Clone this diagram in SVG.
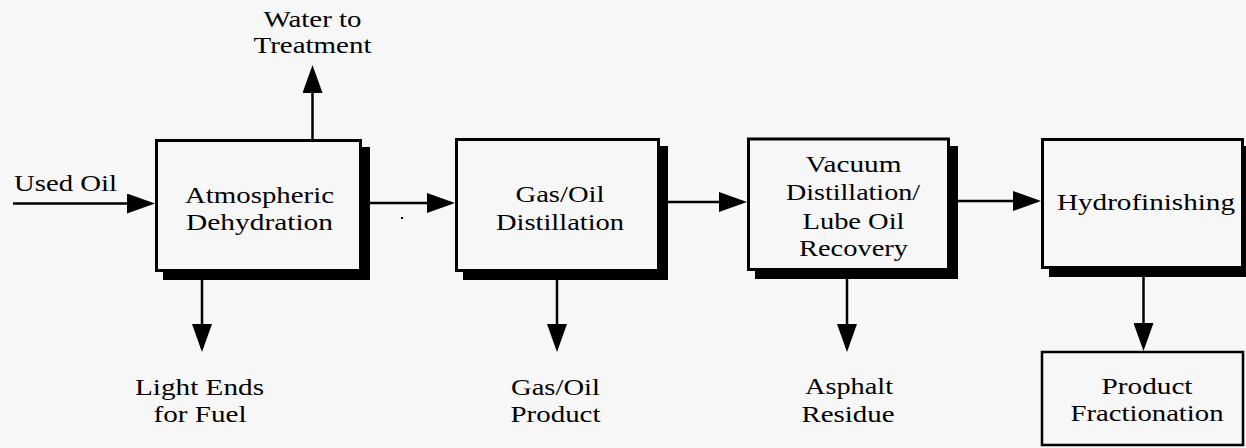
<svg xmlns="http://www.w3.org/2000/svg" width="1246" height="448" viewBox="0 0 1246 448">
  <defs>
    <!-- solid triangular arrowhead; lines stop 4px short of the tip -->
    <marker id="head" markerUnits="userSpaceOnUse" markerWidth="28" markerHeight="20" refX="24" refY="10" orient="auto">
      <path d="M0,0 L28,10 L0,20 Z" fill="#000"/>
    </marker>
  </defs>

  <rect width="1246" height="448" fill="#f7f7f7"/>
  <rect x="401" y="217" width="2" height="2" fill="#000"/>

  <!-- flow lines -->
  <g id="connectors" stroke="#000" stroke-width="2.5" fill="none">
    <line marker-end="url(#head)" x1="13" y1="203.5" x2="151" y2="203.5"/>
    <line marker-end="url(#head)" x1="370" y1="203" x2="451" y2="203"/>
    <line marker-end="url(#head)" x1="668" y1="202" x2="743" y2="202"/>
    <line marker-end="url(#head)" x1="958" y1="201" x2="1037" y2="201"/>
    <line marker-end="url(#head)" x1="312.5" y1="139" x2="312.5" y2="69"/>
    <line marker-end="url(#head)" x1="202" y1="280" x2="202" y2="348"/>
    <line marker-end="url(#head)" x1="557" y1="280" x2="557" y2="348"/>
    <line marker-end="url(#head)" x1="847" y1="279" x2="847" y2="348"/>
    <line marker-end="url(#head)" x1="1143.5" y1="277" x2="1143.5" y2="347"/>
  </g>

  <!-- process units: an offset black block behind each box gives the drop shadow -->
  <g id="box-shapes" stroke="#000" stroke-width="3" fill="#f7f7f7">
    <rect id="atmospheric-dehydration-shadow" x="163" y="147" width="207" height="133" fill="#000" stroke="none"/>
    <rect id="atmospheric-dehydration-box" x="156.5" y="140.5" width="204" height="130"/>
    <rect id="gas-oil-distillation-shadow" x="463" y="146" width="205" height="134" fill="#000" stroke="none"/>
    <rect id="gas-oil-distillation-box" x="456.5" y="139.5" width="202" height="131"/>
    <rect id="vacuum-distillation-shadow" x="755" y="146" width="203" height="133" fill="#000" stroke="none"/>
    <rect id="vacuum-distillation-box" x="748.5" y="139" width="200" height="130.5"/>
    <rect id="hydrofinishing-shadow" x="1049" y="146" width="203" height="131" fill="#000" stroke="none"/>
    <rect id="hydrofinishing-box" x="1042.5" y="139.5" width="200" height="128"/>
    <rect id="product-fractionation-box" x="1042" y="352" width="201" height="93" stroke-width="2.5"/>
  </g>

  <!-- all labels -->
  <g id="labels" font-family="Liberation Serif" font-size="24" text-anchor="middle" fill="#000">
    <g id="atmospheric-dehydration">
      <text x="259.5" y="202.5" textLength="149" lengthAdjust="spacingAndGlyphs">Atmospheric</text>
      <text x="259.5" y="230" textLength="147" lengthAdjust="spacingAndGlyphs">Dehydration</text>
    </g>
    <g id="gas-oil-distillation">
      <text x="560" y="201.5" textLength="89" lengthAdjust="spacingAndGlyphs">Gas/Oil</text>
      <text x="560" y="230" textLength="128" lengthAdjust="spacingAndGlyphs">Distillation</text>
    </g>
    <g id="vacuum-distillation">
      <text x="853.5" y="171.5" textLength="96" lengthAdjust="spacingAndGlyphs">Vacuum</text>
      <text x="853" y="200" textLength="134" lengthAdjust="spacingAndGlyphs">Distillation/</text>
      <text x="853.5" y="228.5" textLength="102" lengthAdjust="spacingAndGlyphs">Lube Oil</text>
      <text x="853.5" y="256" textLength="109" lengthAdjust="spacingAndGlyphs">Recovery</text>
    </g>
    <g id="hydrofinishing">
      <text x="1146" y="210" textLength="178" lengthAdjust="spacingAndGlyphs">Hydrofinishing</text>
    </g>
    <g id="product-fractionation">
      <text x="1147" y="393.5" textLength="91" lengthAdjust="spacingAndGlyphs">Product</text>
      <text x="1147" y="420.5" textLength="153" lengthAdjust="spacingAndGlyphs">Fractionation</text>
    </g>
    <g id="label-water">
      <text x="312.5" y="26.5" textLength="98" lengthAdjust="spacingAndGlyphs">Water to</text>
      <text x="312.5" y="53" textLength="118" lengthAdjust="spacingAndGlyphs">Treatment</text>
    </g>
    <g id="label-used-oil">
      <text x="65.5" y="190.5" textLength="103" lengthAdjust="spacingAndGlyphs">Used Oil</text>
    </g>
    <g id="label-light-ends">
      <text x="199.5" y="395" textLength="129" lengthAdjust="spacingAndGlyphs">Light Ends</text>
      <text x="200" y="421.5" textLength="93" lengthAdjust="spacingAndGlyphs">for Fuel</text>
    </g>
    <g id="label-gas-oil-product">
      <text x="555.5" y="395" textLength="89" lengthAdjust="spacingAndGlyphs">Gas/Oil</text>
      <text x="555.5" y="421.5" textLength="90" lengthAdjust="spacingAndGlyphs">Product</text>
    </g>
    <g id="label-asphalt">
      <text x="849" y="393.5" textLength="88" lengthAdjust="spacingAndGlyphs">Asphalt</text>
      <text x="848" y="421.5" textLength="93" lengthAdjust="spacingAndGlyphs">Residue</text>
    </g>
  </g>
</svg>
